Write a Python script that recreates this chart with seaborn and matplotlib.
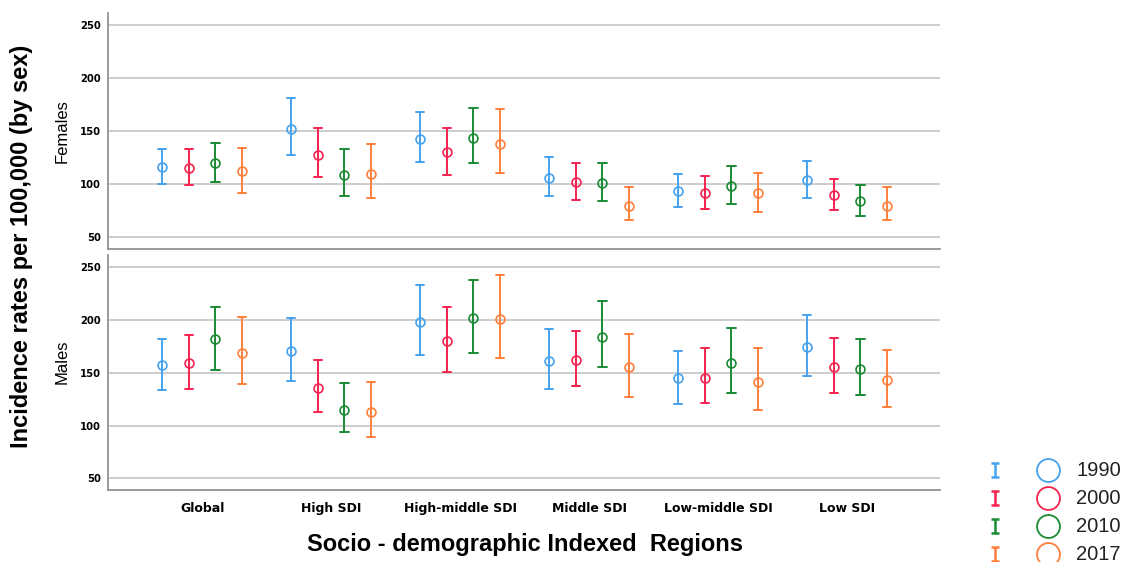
import numpy as np
import pandas as pd
import matplotlib
matplotlib.use("Agg")
import matplotlib.pyplot as plt
import seaborn as sns

# ---------------- data ----------------
regions = ["Global", "High SDI", "High-middle SDI", "Middle SDI", "Low-middle SDI", "Low SDI"]
years = ["1990", "2000", "2010", "2017"]

# Females (rows = regions, cols = years)
female_mid = [[116, 115, 120, 113], [152, 128, 109, 110], [143, 130, 144, 138],
              [106, 102, 101, 80], [94, 92, 98, 92], [104, 90, 84, 80]]
female_low = [[100, 99, 102, 92], [128, 107, 89, 87], [121, 109, 120, 111],
              [89, 85, 84, 66], [79, 77, 81, 74], [87, 76, 70, 66]]
female_high = [[133, 133, 139, 134], [181, 153, 133, 138], [168, 153, 172, 171],
               [126, 120, 120, 97], [110, 108, 117, 111], [122, 105, 99, 97]]

# Males
male_mid = [[157, 159, 182, 169], [171, 136, 115, 113], [198, 180, 202, 201],
            [161, 162, 184, 155], [145, 145, 159, 141], [174, 155, 154, 143]]
male_low = [[134, 135, 153, 139], [142, 113, 94, 89], [167, 151, 169, 164],
            [135, 137, 155, 127], [120, 121, 131, 115], [147, 131, 129, 118]]
male_high = [[182, 186, 212, 203], [202, 162, 140, 141], [233, 212, 238, 243],
             [191, 190, 218, 187], [171, 173, 192, 173], [205, 183, 182, 172]]

y_ticks = [50, 100, 150, 200, 250]
colors = ["#45a2ef", "#f5214e", "#1a8a33", "#ff7f3a"]
palette = dict(zip(years, colors))


def long_frame(mid, low, high):
    rows = []
    for i, r in enumerate(regions):
        for j, y in enumerate(years):
            for v in (low[i][j], mid[i][j], high[i][j]):
                rows.append({"region": r, "year": y, "value": v})
    return pd.DataFrame(rows)


df_f = long_frame(female_mid, female_low, female_high)
df_m = long_frame(male_mid, male_low, male_high)

# ---------------- figure ----------------
sns.set_style("white")
plt.rcParams["font.family"] = ["DejaVu Sans"]
plt.rcParams["text.color"] = "black"
plt.rcParams["xtick.color"] = "black"
plt.rcParams["ytick.color"] = "black"

W, H = 1126, 562
fig = plt.figure(figsize=(W / 100, H / 100), dpi=100)


def px_axes(x0, y0, x1, y1):
    return fig.add_axes([x0 / W, 1 - y1 / H, (x1 - x0) / W, (y1 - y0) / H])


ax_f = px_axes(108, 13, 940, 249)
ax_m = px_axes(108, 255, 940, 490)

for ax, df in ((ax_f, df_f), (ax_m, df_m)):
    sns.pointplot(data=df, x="region", y="value", hue="year", order=regions,
                  hue_order=years, palette=palette, estimator="median",
                  errorbar=("pi", 100), dodge=0.62, linestyle="none",
                  markers="o", capsize=0.065, markersize=6.4,
                  markeredgewidth=1.2, err_kws={"linewidth": 1.4},
                  legend=False, ax=ax)
    for ln in ax.lines:
        ln.set_markerfacecolor("none")
    ax.set_ylim(39, 261.5)
    ax.set_xlim(-0.73, 5.72)
    ax.set_yticks(y_ticks)
    ax.yaxis.grid(True, color="#c9c9c9", linewidth=1.3)
    ax.set_axisbelow(True)
    ax.set_xlabel("")
    ax.set_ylabel("")
    for s in ("top", "right"):
        ax.spines[s].set_visible(False)
    for s in ("left", "bottom"):
        ax.spines[s].set_color("#8a8a8a")
        ax.spines[s].set_linewidth(1.2)
    ax.tick_params(axis="both", length=0, colors="black")
    ax.tick_params(axis="y", pad=5)
    for lab in ax.get_yticklabels():
        lab.set_fontsize(7.2)
        lab.set_fontweight("bold")
        lab.set_color("black")

ax_f.set_xticklabels([])
ax_m.tick_params(axis="x", pad=12.5)
for lab in ax_m.get_xticklabels():
    lab.set_fontsize(9)
    lab.set_fontweight("bold")
    lab.set_color("black")
    lab.set_va("center_baseline")

# panel labels
fig.text(62 / W, 1 - 131 / H, "Females", rotation=90, ha="center", va="center",
         fontsize=12, family="Liberation Sans", color="black")
fig.text(62 / W, 1 - 362 / H, "Males", rotation=90, ha="center", va="center",
         fontsize=12, family="Liberation Sans", color="black")

# axis titles
fig.text(22 / W, 1 - 246 / H, "Incidence rates per 100,000 (by sex)", rotation=90,
         ha="center", va="center", fontsize=17, fontweight="bold",
         family="Liberation Sans", color="black")
fig.text(525 / W, 1 - 545 / H, "Socio - demographic Indexed  Regions",
         ha="center", va="center", fontsize=17, fontweight="bold",
         family="Liberation Sans", color="black")

# legend (drawn in its own pixel-coordinate axes)
lax = px_axes(960, 440, W, H)
lax.set_xlim(960, W)
lax.set_ylim(H, 440)
lax.axis("off")
row_y = [470, 498, 526, 554]
for y, yr, c in zip(row_y, years, colors):
    lax.errorbar([995], [y], yerr=[7], fmt="none", ecolor=c, elinewidth=1.8,
                 capsize=2.6, capthick=1.8, clip_on=False)
    lax.plot([1048], [y], marker="o", markersize=16.5, markerfacecolor="none",
             markeredgecolor=c, markeredgewidth=1.3, clip_on=False)
    lax.text(1076, y, yr, ha="left", va="center", fontsize=14.5,
             family="Liberation Sans", color="#222222", clip_on=False)

fig.savefig("out.png", dpi=100)
